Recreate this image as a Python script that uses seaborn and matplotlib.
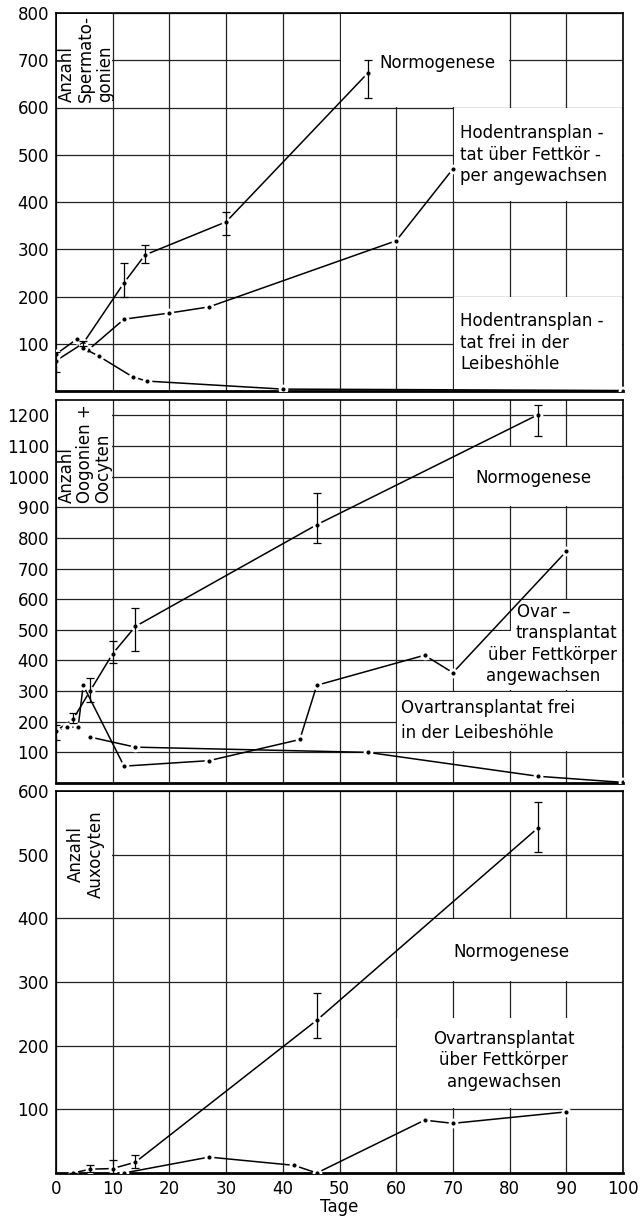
import numpy as np
import pandas as pd
import matplotlib
matplotlib.use("Agg")
import matplotlib.pyplot as plt
import seaborn as sns
from matplotlib.patches import Rectangle

sns.set_theme(style="white")
plt.rcParams["font.family"] = ["DejaVu Sans"]
plt.rcParams["text.color"] = "black"
plt.rcParams["axes.labelcolor"] = "black"

# ---------------- data ----------------
# top panel: Anzahl Spermatogonien
top_normo_days = [0, 4.8, 12, 15.7, 30, 55]
top_normo_vals = [64, 101, 229, 288, 358, 673]
top_normo_lo = [40, 95, 200, 270, 330, 620]
top_normo_hi = [82, 106, 271, 310, 378, 700]

top_fett_days = [0, 3.7, 5.7, 12, 20, 27, 60, 70]
top_fett_vals = [78, 110, 87, 152, 165, 178, 318, 470]

top_frei_days = [3.7, 4.8, 7.5, 13.5, 16, 40, 100]
top_frei_vals = [110, 91, 74, 30, 21, 4, 1]

# middle panel: Anzahl Oogonien + Oocyten
mid_normo_days = [0, 3, 6, 10, 14, 46, 85]
mid_normo_vals = [170, 208, 300, 422, 511, 843, 1202]
mid_normo_lo = [139, 197, 263, 393, 432, 783, 1134]
mid_normo_hi = [188, 230, 342, 465, 570, 946, 1235]

mid_fett_days = [0, 2, 3.9, 4.8, 12, 27, 43, 46, 65, 70, 90]
mid_fett_vals = [170, 182, 182, 319, 55, 73, 142, 319, 417, 360, 756]

mid_frei_days = [6, 14, 55, 85, 100]
mid_frei_vals = [150, 117, 100, 22, 2]

# bottom panel: Anzahl Auxocyten
bot_normo_days = [3, 6, 10, 14, 46, 85]
bot_normo_vals = [0, 6, 7, 17, 240, 542]
bot_normo_lo = [0, 1, 0, 8, 212, 504]
bot_normo_hi = [0, 12, 20, 29, 283, 583]

bot_fett_days = [12, 27, 42, 46, 65, 70, 90]
bot_fett_vals = [0, 25, 12, 0, 83, 78, 96]

x_ticks = list(range(0, 101, 10))

# ---------------- figure ----------------
fig = plt.figure(figsize=(6.4, 12.18), dpi=100)
L, W = 56 / 640, 567 / 640
H_FIG = 1218
ax_top = fig.add_axes([L, 1 - 391 / H_FIG, W, 378 / H_FIG])
ax_mid = fig.add_axes([L, 1 - 783 / H_FIG, W, 383 / H_FIG])
ax_bot = fig.add_axes([L, 1 - 1173 / H_FIG, W, 382 / H_FIG])

FS = 12
line_kw = dict(color="black", linewidth=1.1, marker="o", markersize=5,
               markerfacecolor="black", markeredgecolor="white",
               markeredgewidth=2, sort=False, estimator=None, zorder=3)


def setup(ax, ymax, yticks, show_x):
    ax.set_xlim(0, 100)
    ax.set_ylim(0, ymax)
    ax.set_xticks(x_ticks)
    ax.set_yticks(yticks)
    ax.grid(True, color="#222222", linewidth=0.9)
    ax.set_axisbelow(True)
    ax.tick_params(length=0, labelsize=FS, pad=5, colors="black")
    if not show_x:
        ax.set_xticklabels([])
    for s in ax.spines.values():
        s.set_color("black")
        s.set_linewidth(1.2)
        s.set_zorder(2.5)
    ax.spines["bottom"].set_linewidth(2.0)
    ax.set_xlabel("")
    ax.set_ylabel("")


def box(ax, x0, x1, y0, y1, ymax):
    dx = 100 / 567 * 1.0
    dy = ymax / 382 * 1.0
    ax.add_patch(Rectangle((x0 + dx, y0 + dy), (x1 - x0) - 2 * dx,
                           (y1 - y0) - 2 * dy, facecolor="white",
                           edgecolor="none", zorder=1))


def line(ax, xs, ys, **extra):
    kw = dict(line_kw)
    kw.update(extra)
    sns.lineplot(x=xs, y=ys, ax=ax, **kw)


def ebar(ax, xs, ys, lo, hi):
    ys = np.asarray(ys, float)
    err = [ys - np.asarray(lo), np.asarray(hi) - ys]
    ax.errorbar(xs, ys, yerr=err, fmt="none", ecolor="black",
                elinewidth=0.9, capsize=3, capthick=0.9, zorder=4)


# ---- top ----
ax = ax_top
setup(ax, 800, list(range(100, 801, 100)), False)
for b in [(0, 10, 600, 800), (50, 80, 600, 800), (70, 100, 400, 600), (70, 100, 0, 200)]:
    box(ax, *b, 800)
line(ax, top_normo_days, top_normo_vals)
line(ax, top_fett_days, top_fett_vals)
line(ax, top_frei_days, top_frei_vals)
ebar(ax, top_normo_days, top_normo_vals, top_normo_lo, top_normo_hi)
ax.text(0.4, 612, "Anzahl\nSpermato-\ngonien", rotation=90, ha="left", va="bottom",
        multialignment="left", fontsize=FS, linespacing=1.05, zorder=5)
ax.text(57.1, 694, "Normogenese", ha="left", va="center", fontsize=FS, zorder=5)
ax.text(71.3, 500, "Hodentransplan -\ntat über Fettkör -\nper angewachsen", ha="left",
        va="center", fontsize=FS, linespacing=1.25, zorder=5)
ax.text(71.3, 102, "Hodentransplan -\ntat frei in der\nLeibeshöhle", ha="left",
        va="center", fontsize=FS, linespacing=1.25, zorder=5)

# ---- middle ----
ax = ax_mid
setup(ax, 1250, list(range(100, 1201, 100)), False)
for b in [(0, 10, 900, 1250), (70, 100, 900, 1100), (80, 100, 300, 600),
          (70, 100, 300, 500), (60, 100, 100, 300)]:
    box(ax, *b, 1250)
line(ax, mid_normo_days, mid_normo_vals)
line(ax, mid_fett_days[:3], mid_fett_vals[:3], linestyle="--")
line(ax, mid_fett_days[2:], mid_fett_vals[2:])
line(ax, mid_frei_days, mid_frei_vals)
ebar(ax, mid_normo_days, mid_normo_vals, mid_normo_lo, mid_normo_hi)
ax.text(0.4, 915, "Anzahl\nOogonien +\nOocyten", rotation=90, ha="left", va="bottom",
        multialignment="left", fontsize=FS, linespacing=1.0, zorder=5)
ax.text(74, 994, "Normogenese", ha="left", va="center", fontsize=FS, zorder=5)
ax.text(86, 557, "Ovar –", ha="center", va="center", fontsize=FS, zorder=5)
ax.text(99, 488, "transplantat", ha="right", va="center", fontsize=FS, zorder=5)
ax.text(99, 418, "über Fettkörper", ha="right", va="center", fontsize=FS, zorder=5)
ax.text(86, 350, "angewachsen", ha="center", va="center", fontsize=FS, zorder=5)
ax.text(60.8, 244, "Ovartransplantat frei", ha="left", va="center", fontsize=FS, zorder=5)
ax.text(60.8, 163, "in der Leibeshöhle", ha="left", va="center", fontsize=FS, zorder=5)

# ---- bottom ----
ax = ax_bot
setup(ax, 600, list(range(100, 601, 100)), True)
for b in [(0, 10, 400, 600), (60, 100, 300, 400), (60, 100, 100, 245)]:
    box(ax, *b, 600)
line(ax, bot_normo_days, bot_normo_vals)
line(ax, bot_fett_days, bot_fett_vals)
ebar(ax, bot_normo_days, bot_normo_vals, bot_normo_lo, bot_normo_hi)
ax.text(5.2, 501, "Anzahl\nAuxocyten", rotation=90, ha="center", va="center",
        multialignment="center", fontsize=FS, linespacing=1.15, zorder=5)
ax.text(70, 347, "Normogenese", ha="left", va="center", fontsize=FS, zorder=5)
ax.text(79, 177, "Ovartransplantat\nüber Fettkörper\nangewachsen", ha="center",
        va="center", multialignment="center", fontsize=FS, linespacing=1.25, zorder=5)
ax.set_xlabel("Tage", fontsize=FS, labelpad=0, color="black")

fig.savefig("out.png", dpi=100)
